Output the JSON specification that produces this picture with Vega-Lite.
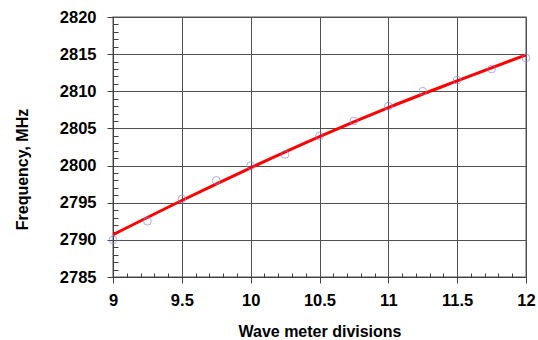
{
  "$schema": "https://vega.github.io/schema/vega-lite/v6.json",
  "width": 413,
  "height": 260,
  "autosize": {"type": "none"},
  "padding": {"left": 113, "top": 17, "right": 12, "bottom": 63},
  "background": "white",
  "config": {
    "font": "Liberation Sans",
    "view": {"stroke": "#909090", "strokeWidth": 1.5}
  },
  "datasets": {
    "obs": [
      {"divisions": 9.0, "frequency": 2790.0},
      {"divisions": 9.25, "frequency": 2792.5},
      {"divisions": 9.5, "frequency": 2795.5},
      {"divisions": 9.75, "frequency": 2798.0},
      {"divisions": 10.0, "frequency": 2800.0},
      {"divisions": 10.25, "frequency": 2801.5},
      {"divisions": 10.5, "frequency": 2804.0},
      {"divisions": 10.75, "frequency": 2806.0},
      {"divisions": 11.0, "frequency": 2808.0},
      {"divisions": 11.25, "frequency": 2810.0},
      {"divisions": 11.5, "frequency": 2811.5},
      {"divisions": 11.75, "frequency": 2813.0},
      {"divisions": 12.0, "frequency": 2814.5}
    ],
    "fit": [
      {"divisions": 9.0, "frequency": 2790.7},
      {"divisions": 9.5, "frequency": 2795.3},
      {"divisions": 10.0, "frequency": 2799.7},
      {"divisions": 10.5, "frequency": 2803.9},
      {"divisions": 11.0, "frequency": 2807.8},
      {"divisions": 11.5, "frequency": 2811.4},
      {"divisions": 12.0, "frequency": 2814.9}
    ]
  },
  "layer": [
    {
      "data": {"name": "fit"},
      "mark": {"type": "line", "color": "#ff0000", "strokeWidth": 3, "clip": true, "interpolate": "monotone"},
      "encoding": {
        "x": {
          "field": "divisions", "type": "quantitative",
          "scale": {"domain": [9, 12], "nice": false, "zero": false},
          "axis": {
            "title": "Wave meter divisions",
            "titleFontSize": 16, "titleFontWeight": "bold", "titleColor": "#000000",
            "titlePadding": 15,
            "tickCount": 200,
            "values": [9, 9.1, 9.2, 9.3, 9.4, 9.5, 9.6, 9.7, 9.8, 9.9, 10, 10.1, 10.2, 10.3, 10.4, 10.5, 10.6, 10.7, 10.8, 10.9, 11, 11.1, 11.2, 11.3, 11.4, 11.5, 11.6, 11.7, 11.8, 11.9, 12],
            "labelExpr": "abs(datum.value*2 - round(datum.value*2)) < 0.001 ? format(datum.value, '.1~f') : ''",
            "labelFontSize": 16.5, "labelFontWeight": "bold", "labelColor": "#000000",
            "labelPadding": 9, "labelFlush": false, "labelOverlap": false,
            "tickSize": {"condition": {"test": "abs(datum.value*2 - round(datum.value*2)) < 0.001", "value": 6}, "value": -4},
            "tickColor": "#404040", "tickWidth": 1,
            "domainColor": "#404040", "domainWidth": 1,
            "grid": true,
            "gridColor": "#505050",
            "gridOpacity": {"condition": {"test": "abs(datum.value*2 - round(datum.value*2)) < 0.001", "value": 1}, "value": 0},
            "gridWidth": 1
          }
        },
        "y": {
          "field": "frequency", "type": "quantitative",
          "scale": {"domain": [2785, 2820], "nice": false, "zero": false},
          "axis": {
            "title": "Frequency, MHz",
            "titleFontSize": 16, "titleFontWeight": "bold", "titleColor": "#000000",
            "titleX": -91, "titleY": 152, "titleBaseline": "middle", "titleAlign": "center", "titleAngle": -90,
            "tickCount": 200,
            "values": [2785, 2786, 2787, 2788, 2789, 2790, 2791, 2792, 2793, 2794, 2795, 2796, 2797, 2798, 2799, 2800, 2801, 2802, 2803, 2804, 2805, 2806, 2807, 2808, 2809, 2810, 2811, 2812, 2813, 2814, 2815, 2816, 2817, 2818, 2819, 2820],
            "labelExpr": "datum.value % 5 == 0 ? format(datum.value, 'd') : ''",
            "labelFontSize": 16.5, "labelFontWeight": "bold", "labelColor": "#000000",
            "labelPadding": 11, "labelFlush": false, "labelOverlap": false,
            "tickSize": {"condition": {"test": "datum.value % 5 == 0", "value": 6}, "value": -5},
            "tickColor": "#404040", "tickWidth": 1,
            "domainColor": "#404040", "domainWidth": 1,
            "grid": true,
            "gridColor": "#505050",
            "gridOpacity": {"condition": {"test": "datum.value % 5 == 0", "value": 1}, "value": 0},
            "gridWidth": 1
          }
        }
      }
    },
    {
      "data": {"name": "obs"},
      "mark": {"type": "point", "shape": "circle", "filled": false, "stroke": "#8888d8", "strokeWidth": 1, "size": 60},
      "encoding": {
        "x": {"field": "divisions", "type": "quantitative"},
        "y": {"field": "frequency", "type": "quantitative"}
      }
    }
  ]
}
